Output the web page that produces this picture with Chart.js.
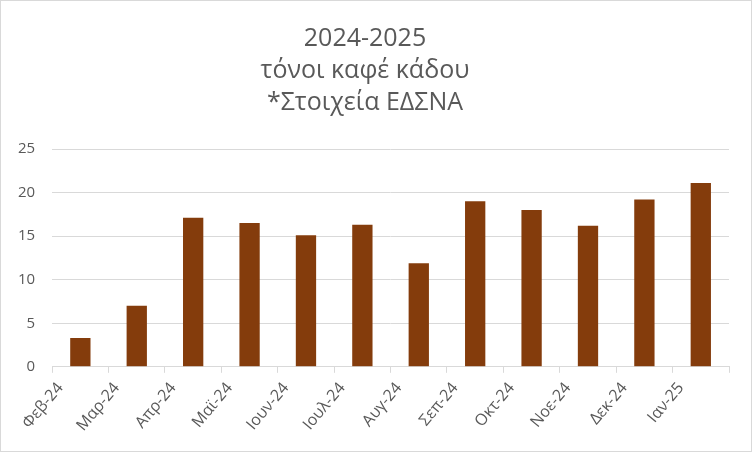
<!DOCTYPE html>
<html>
<head>
<meta charset="utf-8">
<script src="https://cdn.jsdelivr.net/npm/chart.js@4"></script>
<style>
  html, body { margin: 0; padding: 0; background: #fff; }
  #wrap { width: 752px; height: 452px; box-sizing: border-box; border: 1px solid #d9d9d9; }
  #wrap canvas { display: block; }
</style>
</head>
<body>
<div id="wrap"><canvas id="chart" width="750" height="450"></canvas></div>
<script>
  const titleLines = ["2024-2025", "τόνοι καφέ κάδου", "*Στοιχεία ΕΔΣΝΑ"];
  const months = ["Φεβ-24", "Μαρ-24", "Απρ-24", "Μαϊ-24", "Ιουν-24", "Ιουλ-24",
                  "Αυγ-24", "Σεπ-24", "Οκτ-24", "Νοε-24", "Δεκ-24", "Ιαν-25"];
  const tonnes = [3.3, 7.0, 17.1, 16.5, 15.1, 16.3, 11.9, 19.0, 18.0, 16.2, 19.2, 21.1];
  const yTicks = [0, 5, 10, 15, 20, 25];

  const grey = "#595959";
  const lineGrey = "#d9d9d9";
  const font = "'Open Sans', 'Noto Sans', sans-serif";

  new Chart(document.getElementById("chart"), {
    type: "bar",
    data: {
      labels: months,
      datasets: [{ data: tonnes, backgroundColor: "#843c0c", barPercentage: 0.36, categoryPercentage: 1 }]
    },
    options: {
      responsive: false,
      animation: false,
      layout: { padding: { left: 0, right: 22, top: 18, bottom: 10 } },
      plugins: {
        legend: { display: false },
        tooltip: { enabled: false },
        title: {
          display: true,
          text: titleLines,
          color: grey,
          font: { family: font, size: 25, weight: "normal", lineHeight: 1.28 },
          padding: { top: 4, bottom: 30 }
        }
      },
      scales: {
        x: {
          grid: { display: true, drawOnChartArea: false, drawTicks: true, tickLength: 6, color: lineGrey, offset: true },
          border: { display: true, color: lineGrey },
          ticks: { color: grey, font: { family: font, size: 16 }, autoSkip: false, maxRotation: 50, minRotation: 50, padding: 6, labelOffset: -20 }
        },
        y: {
          min: 0,
          max: 25,
          afterBuildTicks: axis => { axis.ticks = yTicks.map(v => ({ value: v })); },
          grid: { color: lineGrey, drawTicks: false },
          border: { display: false },
          ticks: { color: grey, font: { family: font, size: 15 }, padding: 17 }
        }
      }
    }
  });
</script>
</body>
</html>
